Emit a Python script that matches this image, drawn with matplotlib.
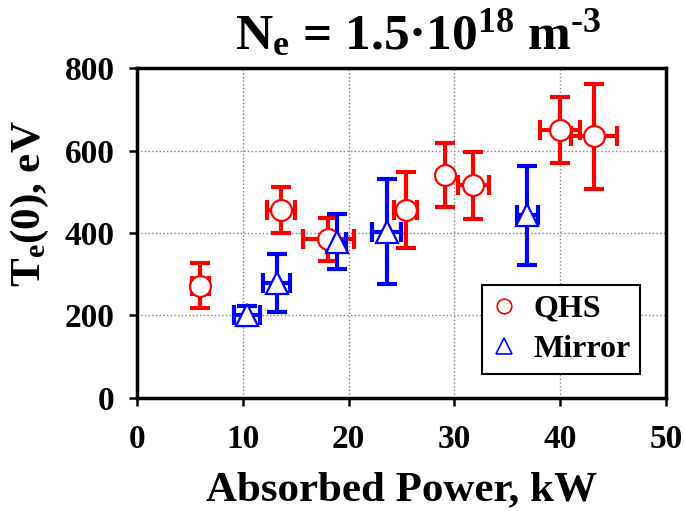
import matplotlib
matplotlib.use("Agg")
import matplotlib.pyplot as plt

plt.rcParams['font.family'] = ['Liberation Serif', 'DejaVu Serif']
plt.rcParams['font.weight'] = 'bold'
plt.rcParams['mathtext.fontset'] = 'custom'
plt.rcParams['mathtext.rm'] = 'Liberation Serif:bold'
plt.rcParams['mathtext.it'] = 'Liberation Serif:bold'
plt.rcParams['mathtext.bf'] = 'Liberation Serif:bold'

# QHS data
qhs_power = [6.0, 13.6, 18.1, 25.4, 29.1, 31.8, 40.0, 43.2]
qhs_power_err = [0.8, 1.3, 2.4, 1.1, 0.0, 1.45, 1.9, 2.2]
qhs_te = [272, 456, 385, 456, 542, 516, 650, 635]
qhs_te_err = [55, 57, 52, 92, 78, 82, 80, 127]

# Mirror data
mir_power = [10.4, 13.2, 18.9, 23.6, 36.9]
mir_power_err = [1.2, 1.3, 0.9, 1.4, 1.0]
mir_te = [200, 279, 379, 403, 443]
mir_te_err = [23, 71, 67, 128, 120]

xticks = [0, 10, 20, 30, 40, 50]
yticks = [0, 200, 400, 600, 800]

fig = plt.figure(figsize=(6.85, 5.11), dpi=100)
ax = fig.add_axes([0.2, 0.222, 0.772, 0.644])

ekw = dict(fmt='none', elinewidth=3.0, capsize=7, capthick=3.0, zorder=3)
ax.errorbar(qhs_power, qhs_te, yerr=qhs_te_err, xerr=qhs_power_err, ecolor='#ff0000', **ekw)
ax.errorbar(mir_power, mir_te, yerr=mir_te_err, xerr=mir_power_err, ecolor='#0000ff', **ekw)
ax.plot(qhs_power, qhs_te, 'o', ms=15, mfc='white', mec='#ff0000', mew=1.6,
        zorder=4, label='QHS')
ax.plot(mir_power, mir_te, '^', ms=16, mfc='white', mec='#0000ff', mew=1.6,
        zorder=4, label='Mirror')

ax.set_xlim(0, 50)
ax.set_ylim(0, 800)
ax.set_xticks(xticks)
ax.set_yticks(yticks)
ax.tick_params(direction='out', length=6, width=1.8, labelsize=24)
ax.tick_params(axis='x', pad=13)
ax.tick_params(axis='y', pad=10)
for lab in ax.get_xticklabels() + ax.get_yticklabels():
    lab.set_fontweight('bold')
ax.grid(True, color='#808080', linestyle=':', linewidth=1.0)
for s in ax.spines.values():
    s.set_linewidth(2.5)

ax.set_xlabel('Absorbed Power, kW', fontsize=31, fontweight='bold', labelpad=12)
ax.set_ylabel(r'T$_\mathregular{e}$(0), eV', fontsize=31, fontweight='bold')
ax.yaxis.set_label_coords(-0.163, 0.588)
ax.set_title('N$_\\mathregular{e}$ = 1.5\u00b710$^{\\mathregular{18}}$ m$^{\\mathregular{\u2010}3}$',
             fontsize=37, fontweight='bold', pad=14, x=0.532)

leg = ax.legend(loc='lower right', bbox_to_anchor=(0.951, 0.072), borderaxespad=0,
                fancybox=False, framealpha=1, edgecolor='black',
                prop={'size': 23, 'weight': 'bold'},
                markerscale=0.7, handlelength=0.8, handletextpad=0.5, borderpad=0.3,
                labelspacing=0.35)
leg.get_frame().set_linewidth(1.5)
for h in leg.legend_handles:
    h.set_markeredgewidth(1.2)

fig.savefig('out.png', dpi=100)
